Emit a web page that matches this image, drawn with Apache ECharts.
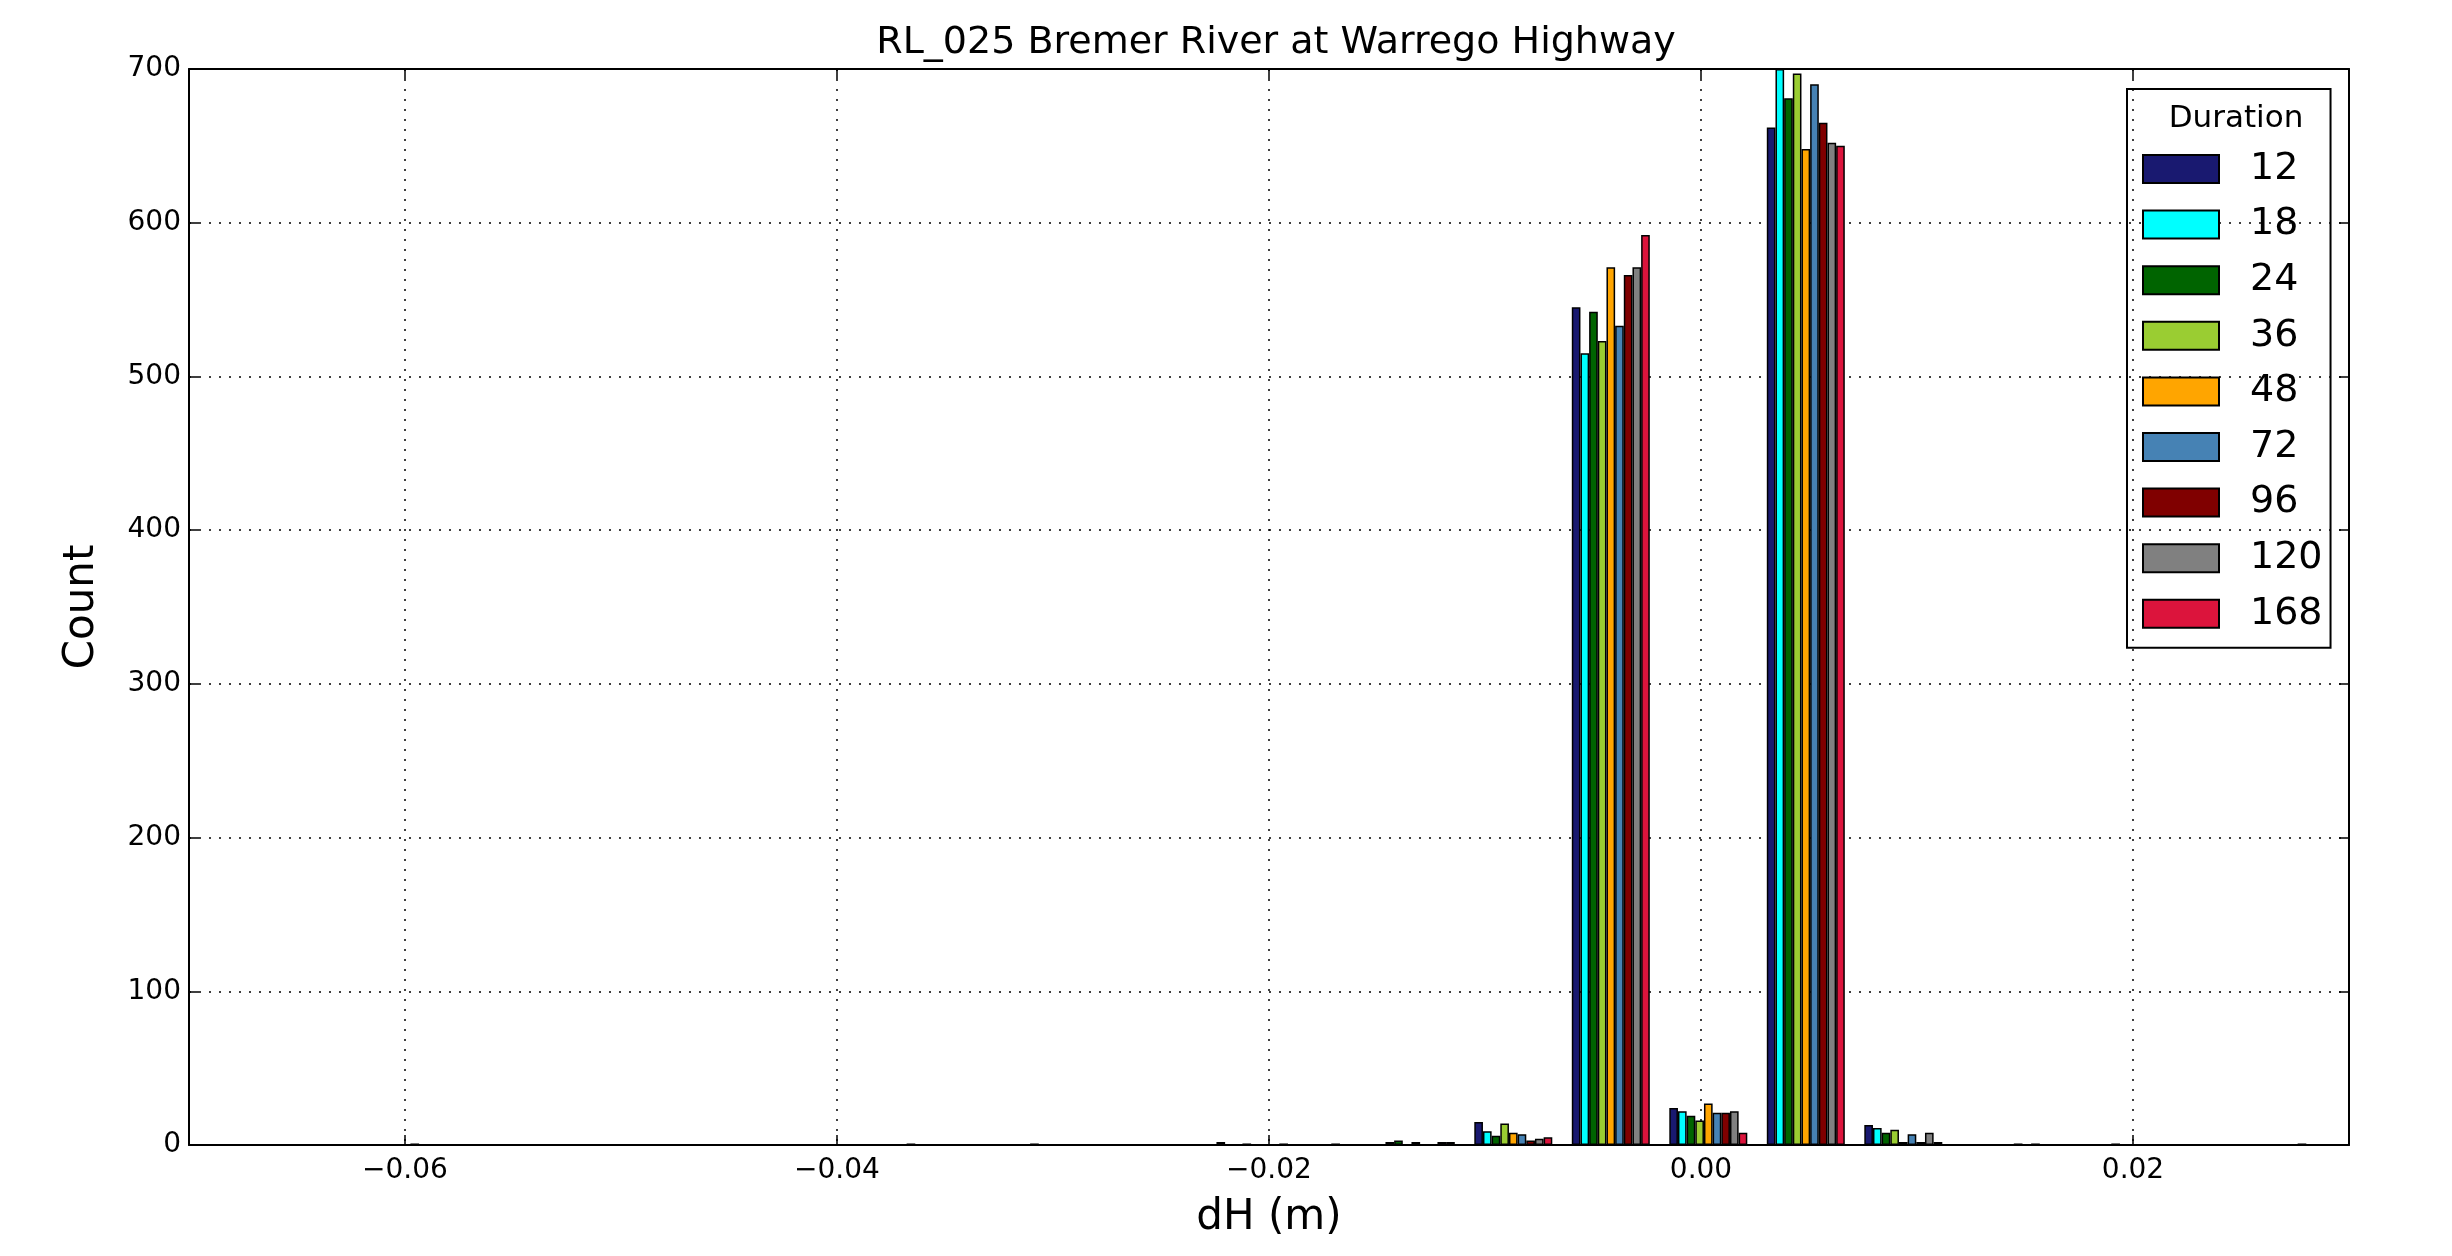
<!DOCTYPE html>
<html><head><meta charset="utf-8">
<script src="https://cdn.jsdelivr.net/npm/echarts@6/dist/echarts.min.js"></script>
<style>html,body{margin:0;padding:0;background:#fff}#c{width:2452px;height:1256px}</style>
</head><body><div id="c"></div>
<script>
const titleText = 'RL_025 Bremer River at Warrego Highway';
const legendTitle = 'Duration';
const xName = 'dH (m)';
const yName = 'Count';
// histogram bin centres (dH, m)
const binCenters = [-0.058344, -0.053830, -0.049316, -0.044802, -0.040288, -0.035774, -0.031260,
  -0.026746, -0.022232, -0.017718, -0.013204, -0.008690, -0.004176, 0.000338, 0.004852,
  0.009366, 0.013880, 0.018394, 0.022908, 0.027422];
const durations = ['12', '18', '24', '36', '48', '72', '96', '120', '168'];
const colors = ['#191970', '#00FFFF', '#006400', '#9ACD32', '#FFA500', '#4682B4', '#800000', '#808080', '#DC143C'];
const d12  = [0,0,0,0,0,0,0,0,0,1,0,15,545,24,662,13,0,0,0,0];
const d18  = [1,0,0,0,0,0,0,0,0,0,2,9,515,22,700,11,0,0,0,0];
const d24  = [0,0,0,0,0,1,0,0,0,0,3,6,542,19,681,8,0,0,0,0];
const d36  = [0,0,0,0,0,0,0,0,0,0,0,14,523,16,697,10,0,0,0,0];
const d48  = [0,0,0,0,0,0,0,0,2,0,2,8,571,27,648,2,0,0,0,0];
const d72  = [0,0,0,0,0,0,1,0,0,0,0,7,533,21,690,7,0,0,0,1];
const d96  = [0,0,0,0,0,0,0,0,0,1,0,3,566,21,665,2,1,1,0,0];
const d120 = [0,0,0,0,0,0,0,0,1,0,2,4,571,22,652,8,0,0,0,0];
const d168 = [0,0,0,0,0,0,0,0,0,0,2,5,592,8,650,2,1,0,0,0];
const counts = [d12, d18, d24, d36, d48, d72, d96, d120, d168];

const FONT = 'DejaVu Sans';
const chart = echarts.init(document.getElementById('c'), null, {renderer: 'canvas'});
const fmtX = v => (v < 0 ? '\u2212' : '') + Math.abs(v).toFixed(2);
const axisLineStyle = {color: '#000', width: 2};
const tickStyle = {show: true, inside: true, length: 10, lineStyle: {color: '#000', width: 1.5}};
const gridLine = {show: true, lineStyle: {color: '#000', width: 1.5, type: [2, 8]}};

const series = durations.map((d, i) => ({
  name: d,
  type: 'bar',
  xAxisIndex: 0, yAxisIndex: 0,
  barGap: '0%',
  barCategoryGap: '20%',
  data: binCenters.map((x, j) => [x, counts[i][j]]),
  itemStyle: {color: colors[i], borderColor: '#000', borderWidth: 1.5},
  emphasis: {disabled: true}
}));

chart.setOption({
  animation: false,
  backgroundColor: '#fff',
  title: [
    {text: titleText, left: 1271, top: 19, textAlign: 'center',
     textStyle: {fontFamily: FONT, fontSize: 38, fontWeight: 'normal', color: '#000'}},
    {text: legendTitle, left: 2231, top: 98, textAlign: 'center',
     textStyle: {fontFamily: FONT, fontSize: 31, fontWeight: 'normal', color: '#000'}}
  ],
  legend: {
    data: durations,
    orient: 'vertical',
    left: 2127, top: 89,
    padding: [61, 8, 15, 15],
    itemWidth: 76, itemHeight: 28, itemGap: 17.6,
    icon: 'rect',
    selectedMode: false,
    borderColor: '#000', borderWidth: 2,
    textStyle: {fontFamily: FONT, fontSize: 38, color: '#000', padding: [0, 0, 0, 26]}
  },
  grid: {left: 189, right: 103, top: 69, bottom: 111, containLabel: false, outerBoundsMode: 'none'},
  xAxis: [
    {type: 'value', position: 'bottom', min: -0.07, max: 0.03, splitNumber: 5,
     axisLine: {show: true, onZero: false, lineStyle: axisLineStyle},
     axisTick: tickStyle,
     axisLabel: {formatter: fmtX, showMinLabel: false, showMaxLabel: false, fontFamily: FONT, fontSize: 28, color: '#000', margin: 12},
     splitLine: gridLine,
     name: xName, nameLocation: 'middle', nameGap: 52,
     nameTextStyle: {fontFamily: FONT, fontSize: 42, color: '#000'}},
    {type: 'value', position: 'top', min: -0.07, max: 0.03, splitNumber: 5,
     axisLine: {show: true, onZero: false, lineStyle: axisLineStyle},
     axisTick: tickStyle, axisLabel: {show: false}, splitLine: {show: false}}
  ],
  yAxis: [
    {type: 'value', position: 'left', min: 0, max: 700, interval: 100,
     axisLine: {show: true, onZero: false, lineStyle: axisLineStyle},
     axisTick: tickStyle,
     axisLabel: {fontFamily: FONT, fontSize: 28, color: '#000', margin: 8},
     splitLine: gridLine,
     name: yName, nameLocation: 'middle', nameGap: 86, nameRotate: 90,
     nameTextStyle: {fontFamily: FONT, fontSize: 42, color: '#000'}},
    {type: 'value', position: 'right', min: 0, max: 700, interval: 100,
     axisLine: {show: true, onZero: false, lineStyle: axisLineStyle},
     axisTick: tickStyle, axisLabel: {show: false}, splitLine: {show: false}}
  ],
  series: series
});
</script>
</body></html>
